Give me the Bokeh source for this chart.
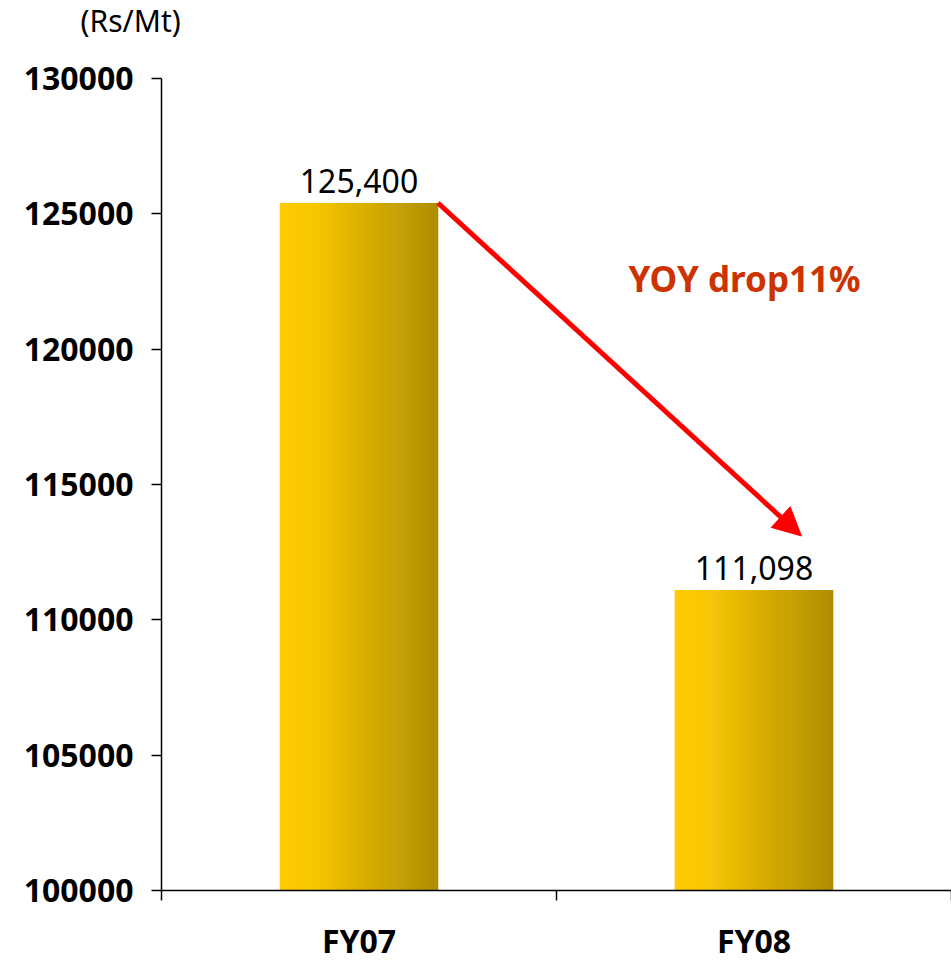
from bokeh.plotting import figure
from bokeh.models import Range1d, FixedTicker, NumeralTickFormatter, Arrow, NormalHead, Label
from bokeh.embed import file_html
from bokeh.resources import INLINE
from bokeh.core.properties import value

# ---- data ----
categories = ["FY07", "FY08"]
values = [125400, 111098]
value_labels = ["125,400", "111,098"]
y_ticks = [100000, 105000, 110000, 115000, 120000, 125000, 130000]
unit_label = "(Rs/Mt)"
annotation = "YOY drop11%"

# ---- style ----
FONT = "Noto Sans"
BAR_W = 0.4
N = 80
Y0, Y1 = 100000, 130000

def grad(t):
    stops = [(0.0, (255, 204, 0)), (0.22, (247, 198, 0)), (1.0, (174, 141, 0))]
    for (t0, c0), (t1, c1) in zip(stops[:-1], stops[1:]):
        if t <= t1:
            f = (t - t0) / (t1 - t0)
            return "#%02x%02x%02x" % tuple(int(round(a + (b - a) * f)) for a, b in zip(c0, c1))
    return "#%02x%02x%02x" % stops[-1][1]

p = figure(width=951, height=964, x_range=Range1d(0, len(categories)),
           y_range=Range1d(Y0, Y1), output_backend="svg", toolbar_location=None,
           min_border_left=161, min_border_right=0, min_border_top=78, min_border_bottom=73)
p.outline_line_color = None
p.xgrid.visible = False
p.ygrid.visible = False

p.title.text = unit_label + "\n "
p.title.align = "left"
p.title.offset = -81
p.title.text_font = FONT
p.title.text_font_size = "30px"
p.title.text_font_style = "normal"
p.title.text_color = "black"
p.title.text_line_height = 1.0
p.title.standoff = -6

centers = [i + 0.5 for i in range(len(categories))]

# gradient bars as thin slices
xs, tops, cols = [], [], []
for c, v in zip(centers, values):
    for k in range(N):
        t = (k + 0.5) / N
        xs.append(c - BAR_W / 2 + t * BAR_W)
        tops.append(v)
        cols.append(grad(t))
p.vbar(x=xs, top=tops, bottom=Y0, width=BAR_W / N * 1.3, fill_color=cols, line_color=None)

# value labels
p.text(x=centers, y=values, text=value_labels, text_align="center", text_baseline="alphabetic",
       y_offset=-22, text_font=value(FONT), text_font_size="32px", text_color="black")

# arrow
p.add_layout(Arrow(end=NormalHead(size=28, fill_color="#ff0000", line_color="#ff0000", line_width=1),
                   x_start=centers[0] + BAR_W / 2, y_start=values[0],
                   x_end=centers[1] + 0.12, y_end=values[1] + 2000,
                   line_color="#ff0000", line_width=5))

p.add_layout(Label(x=1.476, y=122620, text=annotation, text_align="center", text_baseline="middle",
                   text_font=FONT, text_font_size="35px", text_font_style="bold", text_color="#cc3300"))

# axes
for ax in (p.xaxis[0], p.yaxis[0]):
    ax.axis_line_color = "black"
    ax.axis_line_width = 1.5
    ax.major_tick_line_color = "black"
    ax.minor_tick_line_color = "black"
    ax.major_tick_line_width = 1.5
    ax.minor_tick_line_width = 1.5
    ax.major_label_text_font = FONT
    ax.major_label_text_font_size = "32px"
    ax.major_label_text_font_style = "bold"
    ax.major_label_text_color = "black"

p.yaxis.ticker = FixedTicker(ticks=y_ticks)
p.yaxis.formatter = NumeralTickFormatter(format="0")
p.yaxis.major_tick_out = 10
p.yaxis.major_tick_in = 0
p.yaxis.minor_tick_out = 0
p.yaxis.minor_tick_in = 0
p.yaxis.major_label_standoff = 18

p.xaxis.ticker = FixedTicker(ticks=centers, minor_ticks=list(range(len(categories) + 1)))
p.xaxis.major_label_overrides = {c: name for c, name in zip(centers, categories)}
p.xaxis.major_tick_out = 0
p.xaxis.major_tick_in = 0
p.xaxis.minor_tick_out = 10
p.xaxis.minor_tick_in = 0
p.xaxis.major_label_standoff = 18

open("out.html", "w").write(file_html(p, INLINE))
